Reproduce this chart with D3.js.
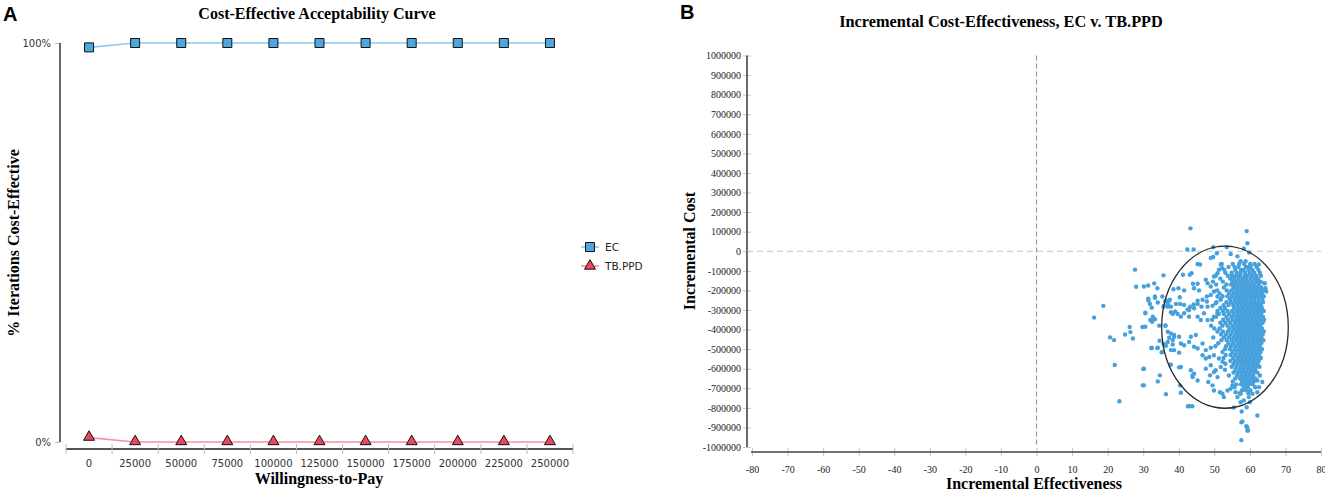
<!DOCTYPE html>
<html><head><meta charset="utf-8">
<script src="https://cdn.jsdelivr.net/npm/d3@7"></script>
<style>body{margin:0;background:#fff} svg{display:block}</style>
</head><body><svg id="c" width="1325" height="498"></svg>
<script>
// ---------- Panel A data ----------
const wtpCategories = ["0","25000","50000","75000","100000","125000","150000","175000","200000","225000","250000"];
const ecPct   = [98.9,100,100,100,100,100,100,100,100,100,100];
const tbppdPct = [1.1,0,0,0,0,0,0,0,0,0,0];
const pctTicks = [0,100];
const pctTickLabels = ["0%","100%"];
const seriesNames = ["EC","TB.PPD"];

// ---------- Panel B data ----------
const effTicks = [-80,-70,-60,-50,-40,-30,-20,-10,0,10,20,30,40,50,60,70,80];
const costTicks = [-1000000,-900000,-800000,-700000,-600000,-500000,-400000,-300000,-200000,-100000,0,100000,200000,300000,400000,500000,600000,700000,800000,900000,1000000];
// confidence ellipse (effectiveness, cost)
const ellipseCenter = [53.0, -388000];
const ellipseRadii = [17.8, 414000];
// scattered iterations: [incremental effectiveness, incremental cost in thousands]
const sparsePoints = [
[27.7,-94],[35.7,-123],[28.0,-181],[30.2,-180],[31.4,-175],[33.1,-164],[34.0,-189],
[18.8,-279],[16.2,-339],[31.4,-242],[33.3,-238],[31.9,-269],[32.4,-288],[30.6,-314],
[32.0,-351],[33.1,-346],[32.5,-360],[29.8,-387],[30.6,-386],[34.5,-380],[36.2,-380],
[26.2,-387],[26.4,-413],[24.9,-425],[27.1,-446],[20.7,-440],[21.8,-454],[34.6,-457],
[32.3,-495],[34.0,-495],[35.2,-516],[37.6,-579],[22.0,-581],[30.0,-601],[34.7,-634],
[34.1,-665],[29.9,-685],[36.4,-730],[23.3,-766],
[35.4,-231],[36.6,-253],[37.3,-252],[35.7,-283],[36.9,-283],[37.8,-312],[36.3,-379],
[36.9,-411],[37.3,-442],[38.7,-437],[38.3,-476],[35.7,-473],[36.4,-483],[37.8,-505],
[38.7,-505],[40.1,-518],[40.1,-593],[40.6,-723],
[43.3,117],[59.1,103],[59.3,41],[42.4,9],[44.2,9],[49.7,21],[53.5,21],[54.6,-14],
[50.7,-10],[58.3,14],[59.8,-7],[49.0,-34],[49.7,-29],[45.3,-65],[46.0,-68],[41.2,-120],
[43.1,-120],[43.6,-112],[51.8,-68],[52.2,-86],[62.5,-68],[64.2,-164],[64.6,-206],
[42.9,-792],[43.8,-792],[55.5,-798],[57.7,-819],[62.1,-839],[57.6,-874],[59.0,-894],
[59.3,-916],[57.6,-965],
[38.5,-194],[39.9,-189],[41.5,-200],[44.0,-166],[45.3,-166],[44.3,-189],[45.7,-200],
[36.2,-255],[37.5,-248],[36.9,-269],[35.8,-279],[37.8,-283],[39.2,-269],[40.3,-235],
[40.4,-269],[39.0,-308],[38.3,-320],[39.7,-320],[41.5,-274],[42.5,-297],[43.2,-283],
[44.2,-272],[45.3,-252],[46.7,-248],[47.9,-257],
[30.6,-317],[31.5,-252],[33.3,-231],[34.1,-262],[32.7,-334],[33.3,-348],
[56.5,-26],[57.4,-51],[58.8,-51],[60.2,-77],[63.2,-211],[64.0,-163],[64.4,-189],
[47.6,-145],[48.1,-163],[49.0,-180],[49.9,-129],[50.9,-112],[51.3,-94],[49.9,-206],
[49.0,-223],[47.9,-231],[50.9,-231],[51.8,-248],[50.4,-266],[49.5,-279],[48.1,-283],
[46.4,-283],[45.3,-269],[44.3,-291],[42.9,-300],[41.5,-317],[40.6,-334],[42.9,-334],
[45.3,-334],[47.1,-317],[46.2,-351],[48.1,-351],[49.9,-334],[50.9,-317],
[32.4,-493],[34.1,-493],[35.5,-514],[35.9,-476],[36.9,-463],[38.3,-454],[38.7,-428],
[37.8,-420],[40.1,-437],[40.6,-471],[41.5,-480],[42.9,-463],[43.4,-437],[44.8,-428],
[44.3,-488],[45.3,-497],[46.7,-471],[47.6,-505],[49.0,-493],[46.7,-531],[47.6,-548],
[48.6,-540],[49.9,-531],[51.3,-548],[52.3,-565],[51.8,-591],[50.4,-608],[49.0,-582],
[47.6,-600],[48.8,-634],[49.9,-617],[50.9,-643],[48.3,-668],[49.5,-685],[49.9,-711],
[51.6,-720],[52.3,-728],[52.7,-745],[53.7,-711],[54.6,-703],[55.1,-685],[56.0,-720],
[56.5,-745],[57.4,-771],[58.3,-762],[59.7,-745],[60.7,-728],[62.1,-720],[62.6,-694],
[63.5,-668],[62.1,-660],[60.7,-660],[59.3,-677],[58.3,-703],[57.4,-728],
[43.4,-608],[43.9,-634],[44.3,-626],[45.3,-660],[43.9,-643],[40.6,-591],[37.8,-579],
[40.4,-685],[30.2,-600],[30.2,-685],[42.6,-792],[59.1,-797],[60.0,-771],[57.9,-870],
[59.3,-900],[59.5,-916]
];
// dense core of iterations: [incremental cost in thousands, effectiveness values]
const coreRows = [
[-65,[52.1,55.2,57.0,58.4,60.1,61.3]],
[-80,[54.0,55.7,56.8,58.9,59.8,61.9]],
[-95,[52.8,55.9,57.5,58.2,59.6,60.7,62.4]],
[-110,[53.1,54.9,56.3,57.4,58.7,60.0,61.2,62.8]],
[-125,[50.4,53.8,55.0,56.1,57.2,58.5,59.4,60.6,61.8,63.1]],
[-140,[51.7,54.5,55.6,56.8,57.9,59.0,60.2,61.4,62.3]],
[-155,[49.6,52.4,55.1,56.2,57.4,58.3,59.5,60.7,61.9,63.0]],
[-170,[50.5,53.4,54.7,55.8,56.9,58.0,59.1,60.2,61.3,62.5]],
[-185,[52.7,55.4,56.5,57.6,58.7,59.8,60.9,62.0,63.2]],
[-200,[50.8,53.5,54.8,56.0,57.1,58.2,59.3,60.4,61.5,62.6,63.6]],
[-215,[51.5,54.2,55.5,56.6,57.7,58.8,59.9,61.0,62.1,63.3]],
[-230,[52.3,53.7,55.0,56.2,57.3,58.4,59.5,60.6,61.7,62.8,63.9]],
[-245,[51.8,54.4,55.7,56.9,58.0,59.1,60.2,61.3,62.4,63.5]],
[-260,[50.6,53.4,54.7,55.9,57.0,58.1,59.2,60.3,61.4,62.5,63.7]],
[-275,[52.6,54.0,55.3,56.5,57.6,58.7,59.8,60.9,62.0,63.1]],
[-290,[51.7,53.0,55.6,56.8,57.9,59.0,60.1,61.2,62.3,63.4]],
[-305,[50.9,52.4,53.7,55.0,56.2,57.3,58.4,59.5,60.6,61.7,62.8,63.9]],
[-320,[51.3,52.7,54.1,55.4,56.6,57.7,58.8,59.9,61.0,62.1,63.2]],
[-335,[50.5,53.4,54.8,56.0,57.1,58.2,59.3,60.4,61.5,62.6,63.7]],
[-350,[49.4,52.5,53.9,55.2,56.4,57.5,58.6,59.7,60.8,61.9,63.0,64.0]],
[-365,[51.7,53.1,54.5,55.8,57.0,58.1,59.2,60.3,61.4,62.5,63.6]],
[-380,[49.1,52.3,53.7,55.1,56.3,57.4,58.5,59.6,60.7,61.8,62.9]],
[-395,[50.0,51.5,54.3,55.6,56.8,57.9,59.0,60.1,61.2,62.3,63.4]],
[-410,[50.9,52.4,53.8,55.1,56.3,57.4,58.5,59.6,60.7,61.8,62.9,63.9]],
[-425,[51.9,53.3,54.6,55.9,57.0,58.1,59.2,60.3,61.4,62.5,63.6]],
[-440,[49.7,52.7,54.1,55.4,56.6,57.7,58.8,59.9,61.0,62.1,63.2]],
[-455,[52.0,53.5,54.9,56.1,57.3,58.4,59.5,60.6,61.7,62.8,63.8]],
[-470,[51.1,54.0,55.3,56.6,57.7,58.8,59.9,61.0,62.1,63.2]],
[-485,[50.3,53.3,54.7,56.0,57.2,58.3,59.4,60.5,61.6,62.7]],
[-500,[53.0,54.4,55.7,56.9,58.0,59.1,60.2,61.3,62.4,63.4]],
[-515,[52.3,55.1,56.3,57.5,58.6,59.7,60.8,61.9,63.0]],
[-530,[53.2,54.6,55.9,57.1,58.2,59.3,60.4,61.5,62.6]],
[-545,[52.6,55.3,56.6,57.7,58.8,59.9,61.0,62.1,63.1]],
[-560,[54.5,55.8,57.0,58.1,59.2,60.3,61.4,62.5]],
[-575,[53.1,55.4,56.6,57.8,58.9,60.0,61.1,62.2]],
[-590,[54.9,56.2,57.4,58.5,59.6,60.7,61.8,62.7]],
[-605,[53.0,55.9,57.1,58.2,59.3,60.4,61.5]],
[-620,[55.4,56.7,57.8,58.9,60.0,61.1,62.1]],
[-635,[54.1,56.4,57.6,58.7,59.8,60.9,62.8]],
[-650,[55.9,57.2,58.3,59.4,60.5,61.6]],
[-665,[55.2,57.8,58.9,60.0,61.1]],
[-680,[56.2,57.5,58.6,59.7,60.8]],
[-695,[55.7,58.3,59.4,61.5]],
[-710,[57.8,58.9,60.1]],
[-725,[57.2,59.6]]
];

const svg = d3.select("#c");
const serif = "'Liberation Serif','Times New Roman',serif";
const sans = "'DejaVu Sans',Verdana,sans-serif";

// ================= PANEL A =================
const gA = svg.append("g");
const xA = d3.scaleBand().domain(wtpCategories).range([66,573]).padding(0);
const yA = d3.scaleLinear().domain([0,100]).range([442,43]);

gA.append("text").attr("x",3).attr("y",21).text("A")
  .attr("font-family","'Liberation Sans',Arial,sans-serif").attr("font-weight","bold").attr("font-size",20);
gA.append("text").attr("x",317).attr("y",19).attr("text-anchor","middle")
  .attr("font-family",serif).attr("font-weight","bold").attr("font-size",16)
  .text("Cost-Effective Acceptability Curve");

// y axis
const yAxisA = d3.axisLeft(yA).tickValues(pctTicks).tickFormat((d,i)=>pctTickLabels[i]).tickSize(5).tickPadding(4);
const gyA = gA.append("g").attr("transform","translate(60,0)").call(yAxisA);
gyA.select(".domain").remove();
gyA.selectAll(".tick line").attr("stroke","#bbb");
gyA.selectAll(".tick text").attr("font-family",sans).attr("font-size",10).attr("fill","#333");
gA.append("line").attr("x1",60).attr("x2",60).attr("y1",yA(100)).attr("y2",yA(0)).attr("stroke","#666").attr("stroke-width",2);

// x axis
const xAxisA = d3.axisBottom(xA).tickSize(0).tickPadding(11);
const gxA = gA.append("g").attr("transform","translate(0,449)").call(xAxisA);
gxA.select(".domain").remove();
gxA.selectAll(".tick text").attr("font-family",sans).attr("font-size",10).attr("fill","#333");
gA.append("line").attr("x1",66).attr("x2",573).attr("y1",449).attr("y2",449).attr("stroke","#555").attr("stroke-width",2);
gA.selectAll(".bnd").data(wtpCategories.concat(["end"])).enter().append("line")
  .attr("x1",(d,i)=> i<wtpCategories.length ? xA(d) : xA(wtpCategories[wtpCategories.length-1])+xA.bandwidth())
  .attr("x2",(d,i)=> i<wtpCategories.length ? xA(d) : xA(wtpCategories[wtpCategories.length-1])+xA.bandwidth())
  .attr("y1",444).attr("y2",454).attr("stroke","#bbb");

gA.append("text").attr("x",319).attr("y",484).attr("text-anchor","middle")
  .attr("font-family",serif).attr("font-weight","bold").attr("font-size",16).text("Willingness-to-Pay");
gA.append("text").attr("transform","translate(19,243) rotate(-90)").attr("text-anchor","middle")
  .attr("font-family",serif).attr("font-weight","bold").attr("font-size",16).text("% Iterations Cost-Effective");

const cx = d => xA(d) + xA.bandwidth()/2;
const lineA = (vals) => d3.line().x((d,i)=>cx(wtpCategories[i])).y(d=>yA(d))(vals);
const ecLine = "#8fcbef", ecFill = "#4ba6e1", tbLine = "#f4929f", tbFill = "#e9485e";
gA.append("path").attr("d",lineA(ecPct)).attr("fill","none").attr("stroke",ecLine).attr("stroke-width",1.6);
gA.append("path").attr("d",lineA(tbppdPct)).attr("fill","none").attr("stroke",tbLine).attr("stroke-width",1.6);
const sq = d3.symbol().type(d3.symbolSquare).size(81);
const tri = d3.symbol().type(d3.symbolTriangle).size(52);
gA.selectAll(".ec").data(ecPct).enter().append("path")
  .attr("transform",(d,i)=>`translate(${cx(wtpCategories[i])},${yA(d)})`).attr("d",sq())
  .attr("fill",ecFill).attr("stroke","#111").attr("stroke-width",1);
gA.selectAll(".tb").data(tbppdPct).enter().append("path")
  .attr("transform",(d,i)=>`translate(${cx(wtpCategories[i])},${yA(d)-0.5})`).attr("d",tri())
  .attr("fill",tbFill).attr("stroke","#111").attr("stroke-width",1);

// legend
const lg = gA.append("g").attr("transform","translate(581,247)");
seriesNames.forEach((name,i)=>{
  const y = i*19;
  lg.append("line").attr("x1",0).attr("x2",18).attr("y1",y).attr("y2",y).attr("stroke",i? tbLine:ecLine).attr("stroke-width",1.6);
  lg.append("path").attr("transform",`translate(9,${y})`).attr("d", i? tri(): sq())
    .attr("fill",i? tbFill:ecFill).attr("stroke","#111").attr("stroke-width",1);
  lg.append("text").attr("x",24).attr("y",y+4).attr("font-family",sans).attr("font-size",10.5).attr("fill","#222").text(name);
});

// ================= PANEL B =================
const gB = svg.append("g");
const xB = d3.scaleLinear().domain([-80,80]).range([752,1321]);
const yB = d3.scaleLinear().domain([-1000000,1000000]).range([447,55.5]);

gB.append("text").attr("x",680).attr("y",19).text("B")
  .attr("font-family","'Liberation Sans',Arial,sans-serif").attr("font-weight","bold").attr("font-size",20);
gB.append("text").attr("x",1001).attr("y",27).attr("text-anchor","middle")
  .attr("font-family",serif).attr("font-weight","bold").attr("font-size",16.3)
  .text("Incremental Cost-Effectiveness, EC v. TB.PPD");

// y axis
const yAxisB = d3.axisLeft(yB).tickValues(costTicks).tickFormat(d=>String(d)).tickSize(8).tickPadding(2);
const gyB = gB.append("g").attr("transform","translate(751,0)").call(yAxisB);
gyB.select(".domain").remove();
gyB.selectAll(".tick line").attr("stroke","#c8c8c8");
gyB.selectAll(".tick text").attr("font-family",serif).attr("font-size",10).attr("fill","#222");
gB.append("line").attr("x1",747).attr("x2",747).attr("y1",yB(1000000)).attr("y2",yB(-1000000)).attr("stroke","#444").attr("stroke-width",1.6);

// x axis
const xAxisB = d3.axisBottom(xB).tickValues(effTicks).tickFormat(d=>String(d)).tickSize(4).tickPadding(10);
const gxB = gB.append("g").attr("transform","translate(0,452)").call(xAxisB);
gxB.select(".domain").remove();
gxB.selectAll(".tick line").attr("stroke","#c8c8c8").attr("y1",-4);
gxB.selectAll(".tick text").attr("font-family",serif).attr("font-size",10).attr("fill","#222");
gB.append("line").attr("x1",751).attr("x2",1321).attr("y1",452).attr("y2",452).attr("stroke","#444").attr("stroke-width",1.6);

gB.append("text").attr("x",1034).attr("y",489).attr("text-anchor","middle")
  .attr("font-family",serif).attr("font-weight","bold").attr("font-size",16).text("Incremental Effectiveness");
gB.append("text").attr("transform","translate(695,251) rotate(-90)").attr("text-anchor","middle")
  .attr("font-family",serif).attr("font-weight","bold").attr("font-size",16).text("Incremental Cost");

// reference dashed lines
gB.append("line").attr("x1",747).attr("x2",1321).attr("y1",yB(0)).attr("y2",yB(0))
  .attr("stroke","#c4c4c4").attr("stroke-width",1.2).attr("stroke-dasharray","6,4");
gB.append("line").attr("x1",xB(0)).attr("x2",xB(0)).attr("y1",yB(1000000)).attr("y2",yB(-1000000))
  .attr("stroke","#9a9a9a").attr("stroke-width",1.2).attr("stroke-dasharray","5,3");

// points
const allPts = [];
coreRows.forEach(([c,xs]) => xs.forEach(x => allPts.push([x,c])));
sparsePoints.forEach(p => allPts.push(p));
gB.selectAll(".pt").data(allPts).enter().append("circle")
  .attr("cx",d=>xB(d[0])).attr("cy",d=>yB(d[1]*1000)).attr("r",2.2).attr("fill","#45a0dc");

// ellipse
gB.append("ellipse").attr("cx",xB(ellipseCenter[0])).attr("cy",yB(ellipseCenter[1]))
  .attr("rx",xB(ellipseCenter[0]+ellipseRadii[0])-xB(ellipseCenter[0]))
  .attr("ry",yB(ellipseCenter[1]-ellipseRadii[1])-yB(ellipseCenter[1]))
  .attr("fill","none").attr("stroke","#2a2a2a").attr("stroke-width",1.3);
</script></body></html>
